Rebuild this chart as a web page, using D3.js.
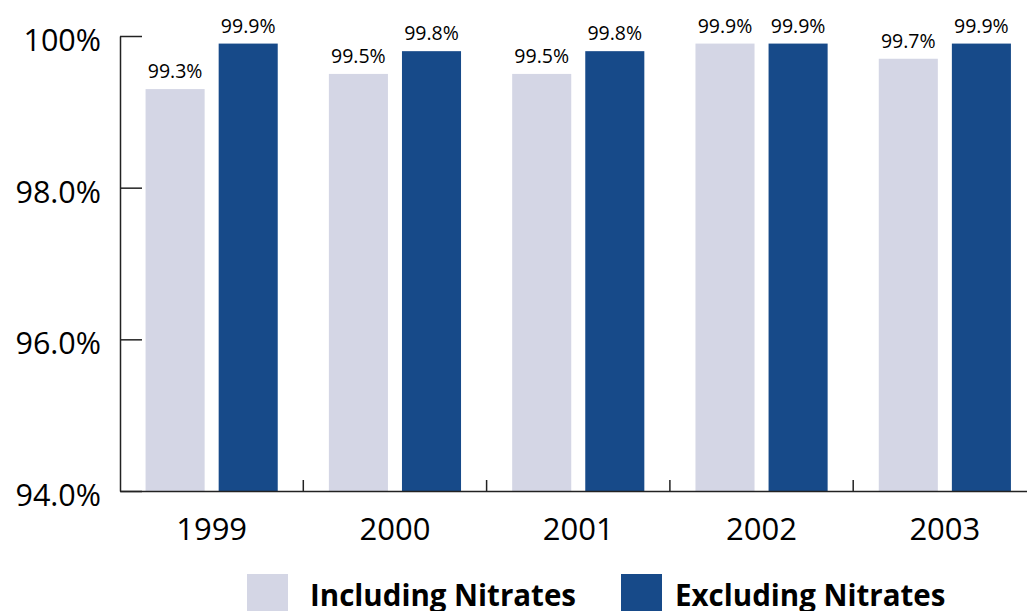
<!DOCTYPE html>
<html>
<head>
<meta charset="utf-8">
<script src="https://cdn.jsdelivr.net/npm/d3@7"></script>
<style>
  html, body { margin: 0; padding: 0; background: #fff; }
  svg { display: block; font-family: "Open Sans", "Noto Sans", sans-serif; }
</style>
</head>
<body>
<svg id="chart" width="1027" height="611"></svg>
<script>
// Compliance rates by year, with and without nitrate results
const years = ["1999", "2000", "2001", "2002", "2003"];
const seriesNames = ["Including Nitrates", "Excluding Nitrates"];
const includingNitrates = [99.3, 99.5, 99.5, 99.9, 99.7];
const excludingNitrates = [99.9, 99.8, 99.8, 99.9, 99.9];
const yTicks = [94, 96, 98, 100];
const yTickLabels = ["94.0%", "96.0%", "98.0%", "100%"];
const colors = ["#d4d6e5", "#174a89"];

const rows = years.map((y, i) => ({
  year: y,
  values: [includingNitrates[i], excludingNitrates[i]]
}));

const svg = d3.select("#chart");
const plotLeft = 120, plotTop = 36, plotBottom = 491;
const step = 183.3;

const x = d3.scaleBand()
  .domain(years)
  .range([plotLeft, plotLeft + step * years.length])
  .paddingInner(0.279)
  .paddingOuter(0.1395);

const xSub = d3.scaleBand()
  .domain([0, 1])
  .range([0, x.bandwidth()])
  .paddingInner(0.192);

const y = d3.scaleLinear().domain([94, 100]).range([plotBottom, plotTop]);

// Bars
const groups = svg.append("g").selectAll("g")
  .data(rows)
  .join("g")
  .attr("transform", d => `translate(${x(d.year)},0)`);

groups.selectAll("rect")
  .data(d => d.values.map((v, i) => ({ v, i })))
  .join("rect")
  .attr("x", d => xSub(d.i))
  .attr("width", xSub.bandwidth())
  .attr("y", d => y(d.v))
  .attr("height", d => y(94) - y(d.v))
  .attr("fill", d => colors[d.i]);

groups.selectAll("text")
  .data(d => d.values.map((v, i) => ({ v, i })))
  .join("text")
  .attr("x", d => xSub(d.i) + xSub.bandwidth() / 2)
  .attr("y", d => y(d.v) - 11)
  .attr("text-anchor", "middle")
  .attr("font-size", 19.5)
  .attr("fill", "#000")
  .text(d => d.v.toFixed(1) + "%");

// Y axis: ticks point inward, labels to the left
const yAxis = svg.append("g")
  .attr("transform", `translate(${plotLeft},0)`)
  .call(d3.axisLeft(y)
    .tickValues(yTicks)
    .tickFormat((d, i) => yTickLabels[i])
    .tickSizeInner(-22)
    .tickSizeOuter(0)
    .tickPadding(19));
yAxis.select(".domain").attr("stroke", "#222").attr("stroke-width", 1.5);
yAxis.selectAll(".tick line").attr("stroke", "#222").attr("stroke-width", 1.5);
yAxis.selectAll(".tick text")
  .attr("font-size", 30.5)
  .attr("font-family", "'Open Sans', 'Noto Sans', sans-serif")
  .attr("fill", "#000")
  .attr("dy", "0.48em");

// X axis: category labels, with short dividers between years
const xAxis = svg.append("g")
  .attr("transform", `translate(0,${plotBottom})`)
  .call(d3.axisBottom(x).tickSize(0).tickPadding(27));
xAxis.select(".domain").attr("stroke", "#222").attr("stroke-width", 1.5);
xAxis.selectAll(".tick text")
  .attr("font-size", 31)
  .attr("font-family", "'Open Sans', 'Noto Sans', sans-serif")
  .attr("fill", "#000")
  .attr("dy", "0.71em");

const gap = x.step() * x.paddingInner() / 2;
svg.append("g").selectAll("line")
  .data(years.slice(1))
  .join("line")
  .attr("x1", d => x(d) - gap)
  .attr("x2", d => x(d) - gap)
  .attr("y1", plotBottom)
  .attr("y2", plotBottom - 11)
  .attr("stroke", "#222")
  .attr("stroke-width", 1.5);

// Legend
const legendX = [247, 621];
const legendTextOffset = [63, 54];
const legend = svg.append("g").selectAll("g")
  .data(seriesNames)
  .join("g")
  .attr("transform", (d, i) => `translate(${legendX[i]},574)`);
legend.append("rect")
  .attr("width", 41).attr("height", 41)
  .attr("fill", (d, i) => colors[i]);
legend.append("text")
  .attr("x", (d, i) => legendTextOffset[i]).attr("y", 32)
  .attr("font-size", 29.5)
  .attr("font-weight", "bold")
  .attr("fill", "#000")
  .text(d => d);
</script>
</body>
</html>
